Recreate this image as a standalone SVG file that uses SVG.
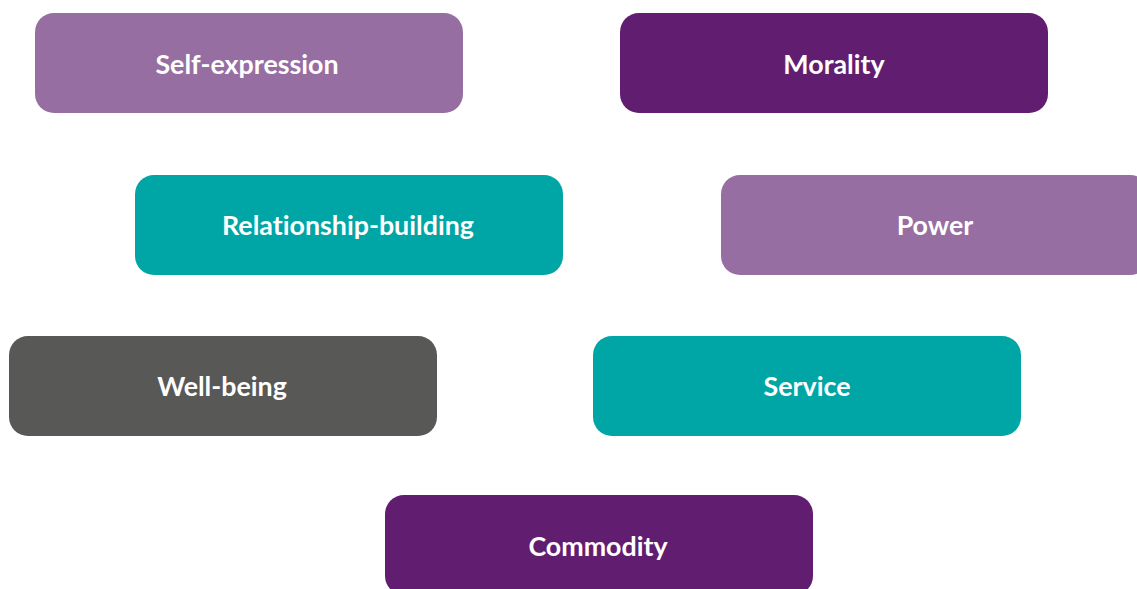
<svg xmlns="http://www.w3.org/2000/svg" width="1137" height="589" viewBox="0 0 1137 589">
<style>
.lp{fill:#966ea2}
.dp{fill:#611e70}
.tl{fill:#00a6a6}
.gr{fill:#585857}
text{font-family:Lato,"Open Sans","Liberation Sans",sans-serif;font-weight:700;font-size:26.8px;fill:#ffffff;text-anchor:middle;dominant-baseline:central;font-variant-ligatures:none}
</style>
<rect width="1137" height="589" fill="#ffffff"/>
<g id="node-self-expression"><rect class="lp" x="35" y="13" width="428" height="100" rx="19"/><text x="247" y="64">Self-expression</text></g>
<g id="node-morality"><rect class="dp" x="620" y="13" width="428" height="100" rx="19"/><text x="834" y="64">Morality</text></g>
<g id="node-relationship-building"><rect class="tl" x="135" y="175" width="428" height="100" rx="19"/><text x="348" y="225">Relationship-building</text></g>
<g id="node-power"><rect class="lp" x="721" y="175" width="428" height="100" rx="19"/><text x="935" y="225">Power</text></g>
<g id="node-well-being"><rect class="gr" x="9" y="336" width="428" height="100" rx="19"/><text x="222" y="386">Well-being</text></g>
<g id="node-service"><rect class="tl" x="593" y="336" width="428" height="100" rx="19"/><text x="807" y="386">Service</text></g>
<g id="node-commodity"><rect class="dp" x="385" y="495" width="428" height="100" rx="19"/><text x="598" y="546">Commodity</text></g>
<g id="connectors"></g>
</svg>
